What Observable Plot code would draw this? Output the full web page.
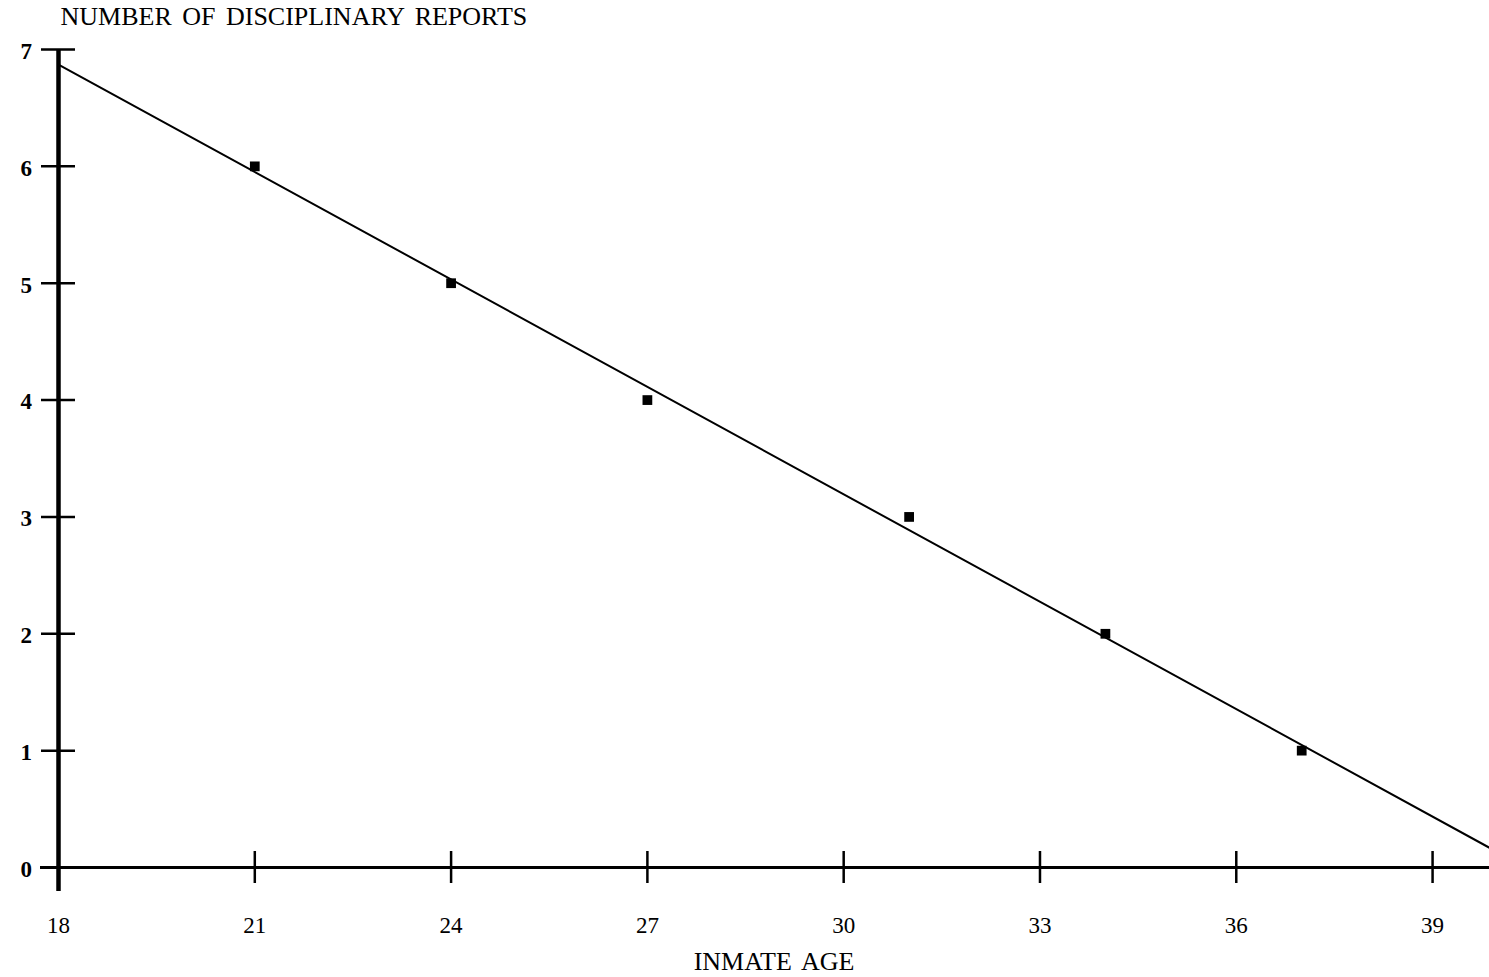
<!DOCTYPE html>
<html>
<head>
<meta charset="utf-8">
<script src="https://cdn.jsdelivr.net/npm/d3@7"></script>
<script src="https://cdn.jsdelivr.net/npm/@observablehq/plot@0.6"></script>
<style>
  html, body { margin: 0; padding: 0; background: #fff; }
  #chart svg { display: block; }
</style>
</head>
<body>
<div id="chart"></div>
<script>
// Data
const ages = [21, 24, 27, 31, 34, 37];
const reports = [6, 5, 4, 3, 2, 1];
const xTicks = [18, 21, 24, 27, 30, 33, 36, 39];
const yTicks = [0, 1, 2, 3, 4, 5, 6, 7];
const xDomain = [18, 39.87];
const yDomain = [0, 7];
const titleText = "NUMBER OF DISCIPLINARY REPORTS";
const xLabelText = "INMATE AGE";

const points = ages.map((a, i) => ({age: a, reports: reports[i]}));

// least-squares fit
const mx = d3.mean(ages), my = d3.mean(reports);
const slope = d3.sum(ages, (a, i) => (a - mx) * (reports[i] - my)) / d3.sum(ages, a => (a - mx) ** 2);
const intercept = my - slope * mx;
const fitLine = xDomain.map(x => ({age: x, reports: intercept + slope * x}));

const serif = "'Liberation Serif', 'DejaVu Serif', serif";

const chart = Plot.plot({
  width: 1489,
  height: 977,
  marginLeft: 58,
  marginRight: 0,
  marginTop: 49,
  marginBottom: 110,
  style: {fontFamily: serif, color: "#000", background: "#fff", overflow: "visible"},
  x: {domain: xDomain, axis: null},
  y: {domain: yDomain, axis: null},
  marks: [
    // x axis line
    Plot.ruleY([0], {stroke: "#000", strokeWidth: 3, insetLeft: -18}),
    // y axis line
    Plot.ruleX([18], {stroke: "#000", strokeWidth: 4.5, insetBottom: -24}),
    // x ticks crossing axis
    Plot.ruleX(xTicks, {x: d => d, y1: 0, y2: 0, insetTop: -16, insetBottom: -16, stroke: "#000", strokeWidth: 2.5}),
    // y ticks crossing axis
    Plot.ruleY(yTicks, {y: d => d, x1: 18, x2: 18, insetLeft: -17, insetRight: -17, stroke: "#000", strokeWidth: 2.5}),
    // x tick labels
    Plot.text(xTicks, {x: d => d, text: d => String(d), frameAnchor: "bottom", lineAnchor: "middle", dy: 58, fontSize: 23, fill: "#000"}),
    // y tick labels
    Plot.text(yTicks, {y: d => d, text: d => String(d), frameAnchor: "left", lineAnchor: "middle", dx: -38, dy: 2, fontSize: 23, fontWeight: "bold", fill: "#000"}),
    // regression line
    Plot.line(fitLine, {x: "age", y: "reports", stroke: "#000", strokeWidth: 2}),
    // data points
    Plot.dot(points, {x: "age", y: "reports", symbol: "square", r: 5.5, fill: "#000", stroke: "none"}),
    // title
    Plot.text([titleText], {text: d => d, frameAnchor: "top-left", lineAnchor: "middle", dx: 2, dy: -33, textAnchor: "start", fontSize: 26, fill: "#000"}),
    // x label
    Plot.text([xLabelText], {text: d => d, frameAnchor: "bottom", lineAnchor: "middle", dy: 94, fontSize: 26, fill: "#000"})
  ]
});

// wider word spacing, as in the typeset original
d3.select(chart).selectAll("text").style("word-spacing", "4px");

document.getElementById("chart").appendChild(chart);
</script>
</body>
</html>
